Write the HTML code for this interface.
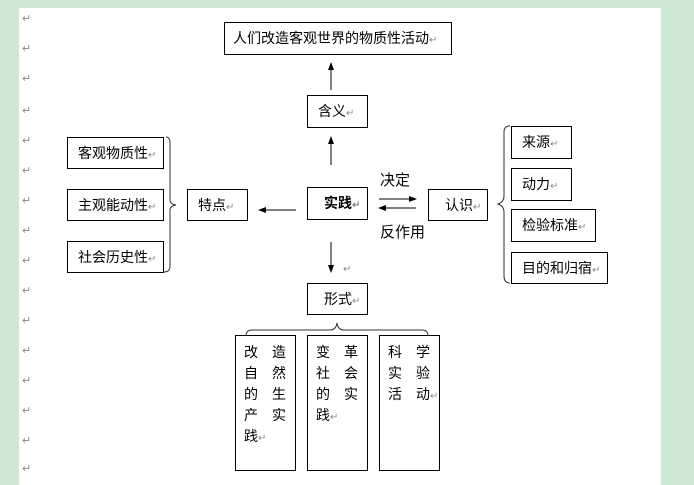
<!DOCTYPE html>
<html><head><meta charset="utf-8"><style>
body{margin:0;width:694px;height:485px;background:#cfe8d2;position:relative;overflow:hidden;font-family:"Liberation Sans","Noto Sans CJK SC",sans-serif;}
#pg{position:absolute;left:19px;top:8px;width:642px;height:477px;background:#fff;}
.b{position:absolute;border:1px solid #000;background:#fff;font-size:14px;color:#000;box-sizing:border-box;line-height:30px;}
.t{position:absolute;font-size:15px;color:#000;}
.r{color:#888;font-size:10px;}
.m{position:absolute;left:22px;color:#888;font-size:11px;}
.v{line-height:21px;padding:6px 0 0 8px;white-space:nowrap}
</style></head><body>
<div id="pg"></div>
<div class="m" style="top:12px">↵</div><div class="m" style="top:42px">↵</div><div class="m" style="top:72px">↵</div><div class="m" style="top:104px">↵</div><div class="m" style="top:134px">↵</div><div class="m" style="top:164px">↵</div><div class="m" style="top:194px">↵</div><div class="m" style="top:224px">↵</div><div class="m" style="top:254px">↵</div><div class="m" style="top:284px">↵</div><div class="m" style="top:314px">↵</div><div class="m" style="top:344px">↵</div><div class="m" style="top:374px">↵</div><div class="m" style="top:404px">↵</div><div class="m" style="top:434px">↵</div><div class="m" style="top:462px">↵</div>

<div class="b" style="left:224px;top:22px;width:228px;height:33px;padding-left:8px">人们改造客观世界的物质性活动<span class="r">↵</span></div>
<div class="b" style="left:307px;top:95px;width:61px;height:33px;padding-left:10px">含义<span class="r">↵</span></div>
<div class="b" style="left:307px;top:187px;width:61px;height:33px;padding-left:16px;font-weight:bold">实践<span class="r">↵</span></div>
<div class="b" style="left:187px;top:189px;width:61px;height:32px;padding-left:10px">特点<span class="r">↵</span></div>
<div class="b" style="left:67px;top:137px;width:97px;height:32px;padding-left:10px">客观物质性<span class="r">↵</span></div>
<div class="b" style="left:67px;top:189px;width:97px;height:32px;padding-left:10px">主观能动性<span class="r">↵</span></div>
<div class="b" style="left:67px;top:241px;width:97px;height:32px;padding-left:10px">社会历史性<span class="r">↵</span></div>
<div class="b" style="left:428px;top:189px;width:60px;height:32px;padding-left:16px">认识<span class="r">↵</span></div>
<div class="b" style="left:511px;top:126px;width:61px;height:33px;padding-left:10px">来源<span class="r">↵</span></div>
<div class="b" style="left:511px;top:168px;width:61px;height:33px;padding-left:10px">动力<span class="r">↵</span></div>
<div class="b" style="left:511px;top:209px;width:85px;height:33px;padding-left:10px">检验标准<span class="r">↵</span></div>
<div class="b" style="left:511px;top:252px;width:97px;height:32px;padding-left:10px">目的和归宿<span class="r">↵</span></div>
<div class="b" style="left:307px;top:283px;width:61px;height:32px;padding-left:16px">形式<span class="r">↵</span></div>
<div class="b v" style="left:235px;top:335px;width:61px;height:136px">改　造<br>自　然<br>的　生<br>产　实<br>践<span class="r">↵</span></div>
<div class="b v" style="left:307px;top:335px;width:61px;height:136px">变　革<br>社　会<br>的　实<br>践<span class="r">↵</span></div>
<div class="b v" style="left:379px;top:335px;width:61px;height:136px">科　学<br>实　验<br>活　动<span class="r">↵</span></div>
<div class="t" style="left:380px;top:169px">决定</div>
<div class="t" style="left:380px;top:221px">反作用</div>
<svg width="694" height="485" style="position:absolute;left:0;top:0" fill="none" stroke="#000">
<defs><marker id="a" markerWidth="8" markerHeight="8" refX="7" refY="4" orient="auto" markerUnits="userSpaceOnUse"><path d="M0,1 L8,4 L0,7z" fill="#000" stroke="none"/></marker></defs>
<line x1="331" y1="90" x2="331" y2="63" marker-end="url(#a)"/>
<line x1="331" y1="165" x2="331" y2="137" marker-end="url(#a)"/>
<line x1="296" y1="210" x2="259" y2="210" marker-end="url(#a)"/>
<line x1="331" y1="242" x2="331" y2="272" marker-end="url(#a)"/>
<line x1="379" y1="199" x2="416" y2="199" marker-end="url(#a)"/>
<line x1="416" y1="208" x2="379" y2="208" marker-end="url(#a)"/>
<path d="M166,137 Q170,137 170,143 L170,200 Q170,204 176,205 Q170,206 170,210 L170,266 Q170,272 164,272" stroke="#333"/>
<path d="M510,126 Q504,126 504,132 L504,196 Q504,202 498,204 Q504,206 504,212 L504,276 Q504,283 510,283" stroke="#333"/>
<path d="M246,336 Q246,330 252,330 L330,330 Q336,330 337,323 Q338,330 344,330 L422,330 Q428,330 428,336" stroke="#333"/>
</svg>
<div class="r" style="position:absolute;left:343px;top:264px">↵</div>
</body></html>
